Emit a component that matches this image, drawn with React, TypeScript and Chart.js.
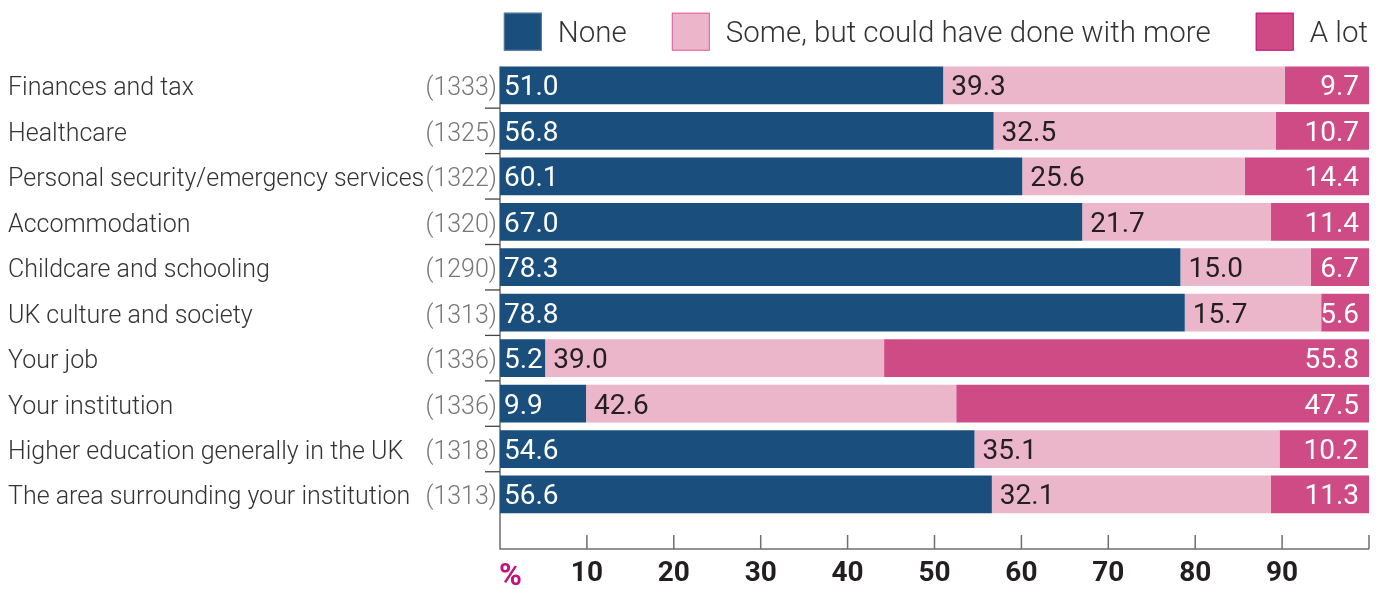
import React, { useEffect, useRef } from "react";
import { Chart, registerables } from "chart.js";

Chart.register(...registerables);

const categories = [
  "Finances and tax",
  "Healthcare",
  "Personal security/emergency services",
  "Accommodation",
  "Childcare and schooling",
  "UK culture and society",
  "Your job",
  "Your institution",
  "Higher education generally in the UK",
  "The area surrounding your institution",
];
const counts = [1333, 1325, 1322, 1320, 1290, 1313, 1336, 1336, 1318, 1313];
const seriesLabels = ["None", "Some, but could have done with more", "A lot"];
const noneValues = [51.0, 56.8, 60.1, 67.0, 78.3, 78.8, 5.2, 9.9, 54.6, 56.6];
const someValues = [39.3, 32.5, 25.6, 21.7, 15.0, 15.7, 39.0, 42.6, 35.1, 32.1];
const lotValues = [9.7, 10.7, 14.4, 11.4, 6.7, 5.6, 55.8, 47.5, 10.2, 11.3];
const xTickValues = [10, 20, 30, 40, 50, 60, 70, 80, 90, 100];
const axisUnitLabel = "%";

const NAVY = "#1a4f7d";
const PINK = "#ebb6c9";
const MAGENTA = "#cf4b86";
const FONT = "Roboto";
const AXIS = "#6f6f6f";

const customPlugin = {
  id: "custom",
  beforeDatasetsDraw(chart: any) {
    const ctx = chart.ctx;
    const xs = chart.scales.x;
    const ys = chart.scales.y;
    const { left, right, top } = chart.chartArea;
    const axisY = 549;
    const meta = chart.getDatasetMeta(0);
    const first: any = meta.data[0];
    const startY = first ? first.y - first.height / 2 : top;
    ctx.save();
    ctx.strokeStyle = AXIS;
    ctx.lineWidth = 1.5;
    ctx.beginPath();
    ctx.moveTo(left, startY);
    ctx.lineTo(left, axisY);
    ctx.lineTo(right, axisY);
    ctx.stroke();
    xTickValues.forEach((v) => {
      const px = xs.getPixelForValue(v);
      ctx.beginPath();
      ctx.moveTo(px, axisY - 14);
      ctx.lineTo(px, axisY);
      ctx.stroke();
    });
    ctx.lineWidth = 1.3;
    ctx.strokeStyle = "#444";
    for (let i = 0; i < categories.length - 1; i++) {
      const py = (ys.getPixelForValue(i) + ys.getPixelForValue(i + 1)) / 2;
      ctx.beginPath();
      ctx.moveTo(left - 15, py);
      ctx.lineTo(left, py);
      ctx.stroke();
    }
    ctx.restore();
  },
  afterDatasetsDraw(chart: any) {
    const ctx = chart.ctx;
    const right = chart.chartArea.right;
    ctx.save();
    ctx.font = `400 28px ${FONT}`;
    ctx.textBaseline = "alphabetic";
    chart.data.datasets.forEach((ds: any, di: number) => {
      const meta = chart.getDatasetMeta(di);
      meta.data.forEach((el: any, i: number) => {
        const txt = Number(ds.data[i]).toFixed(1);
        const y = el.y + 10;
        const start = Math.min(el.base, el.x);
        const end = Math.min(Math.max(el.base, el.x), right);
        if (di === 0) {
          ctx.fillStyle = "#ffffff";
          ctx.textAlign = "left";
          ctx.fillText(txt, start + 4, y);
        } else if (di === 1) {
          ctx.fillStyle = "#231f20";
          ctx.textAlign = "left";
          ctx.fillText(txt, start + 8, y);
        } else {
          ctx.fillStyle = "#ffffff";
          ctx.textAlign = "right";
          ctx.fillText(txt, end - 10, y);
        }
      });
    });
    ctx.restore();
  },
  afterDraw(chart: any) {
    const ctx = chart.ctx;
    const ys = chart.scales.y;
    const xs = chart.scales.x;
    const { left, right } = chart.chartArea;
    ctx.save();
    ctx.textBaseline = "alphabetic";
    categories.forEach((c, i) => {
      const py = ys.getPixelForValue(i) + 10;
      ctx.font = `300 25px ${FONT}`;
      ctx.fillStyle = "#333333";
      ctx.textAlign = "left";
      ctx.fillText(c, 8, py);
      ctx.font = `300 25px ${FONT}`;
      ctx.fillStyle = "#777777";
      ctx.textAlign = "right";
      ctx.fillText(`(${counts[i]})`, left - 3, py);
    });
    ctx.font = `700 31px ${FONT}`;
    ctx.fillStyle = "#c5117c";
    ctx.textAlign = "left";
    ctx.fillText(axisUnitLabel, xs.getPixelForValue(0) - 1, 585);
    // legend
    ctx.font = `300 29.5px ${FONT}`;
    const box = 38;
    const gapBT = 16;
    const gapItems = 45;
    const widths = chart.data.datasets.map(
      (ds: any) => box + gapBT + ctx.measureText(ds.label).width
    );
    const total =
      widths.reduce((a: number, b: number) => a + b, 0) +
      gapItems * (widths.length - 1);
    let x = right - 1 - total;
    const boxTop = 12.7;
    const strokes = ["#5b7fa3", "#e0609a", "#c8177c"];
    chart.data.datasets.forEach((ds: any, i: number) => {
      ctx.fillStyle = ds.backgroundColor;
      ctx.fillRect(x, boxTop, box, box);
      ctx.strokeStyle = strokes[i];
      ctx.lineWidth = 1;
      ctx.strokeRect(x + 0.5, boxTop + 0.5, box - 1, box - 1);
      ctx.fillStyle = "#333333";
      ctx.textAlign = "left";
      ctx.fillText(ds.label, x + box + gapBT, 42);
      x += widths[i] + gapItems;
    });
    ctx.restore();
  },
};

export default function App() {
  const ref = useRef<HTMLCanvasElement | null>(null);
  useEffect(() => {
    if (!ref.current) return;
    const chart = new Chart(ref.current, {
      type: "bar",
      data: {
        labels: categories,
        datasets: [
          { label: seriesLabels[0], data: noneValues, backgroundColor: NAVY },
          { label: seriesLabels[1], data: someValues, backgroundColor: PINK },
          { label: seriesLabels[2], data: lotValues, backgroundColor: MAGENTA },
        ],
      },
      options: {
        indexAxis: "y",
        responsive: false,
        animation: false,
        devicePixelRatio: 1,
        layout: { padding: { top: 62.7, right: 17, left: 0, bottom: 0 } },
        datasets: {
          bar: { barPercentage: 0.83, categoryPercentage: 1, borderWidth: 0 },
        },
        plugins: {
          legend: { display: false },
          tooltip: { enabled: false },
          title: { display: false },
        },
        scales: {
          x: {
            type: "linear",
            stacked: true,
            min: 0,
            max: 100,
            grid: { display: false, drawTicks: false },
            border: { display: false },
            ticks: {
              stepSize: 10,
              padding: 40,
              color: "#231f20",
              font: { family: FONT, size: 28, weight: "bold" },
              callback: (v: any) => (v === 0 || v === 100 ? "" : String(v)),
            },
            afterFit: (s: any) => {
              s.height = 71.8;
              s.paddingLeft = 0;
              s.paddingRight = 0;
            },
          },
          y: {
            type: "category",
            stacked: true,
            offset: true,
            grid: { display: false, drawTicks: false },
            border: { display: false },
            ticks: { display: false },
            afterFit: (s: any) => {
              s.width = 500;
              s.paddingTop = 0;
              s.paddingBottom = 0;
            },
          },
        },
      },
      plugins: [customPlugin],
    } as any);
    return () => chart.destroy();
  }, []);
  return (
    <div style={{ position: "fixed", left: 0, top: 0, width: 1386, height: 589, background: "#fff" }}>
      <canvas ref={ref} width={1386} height={589} style={{ width: 1386, height: 589, display: "block" }} />
    </div>
  );
}
